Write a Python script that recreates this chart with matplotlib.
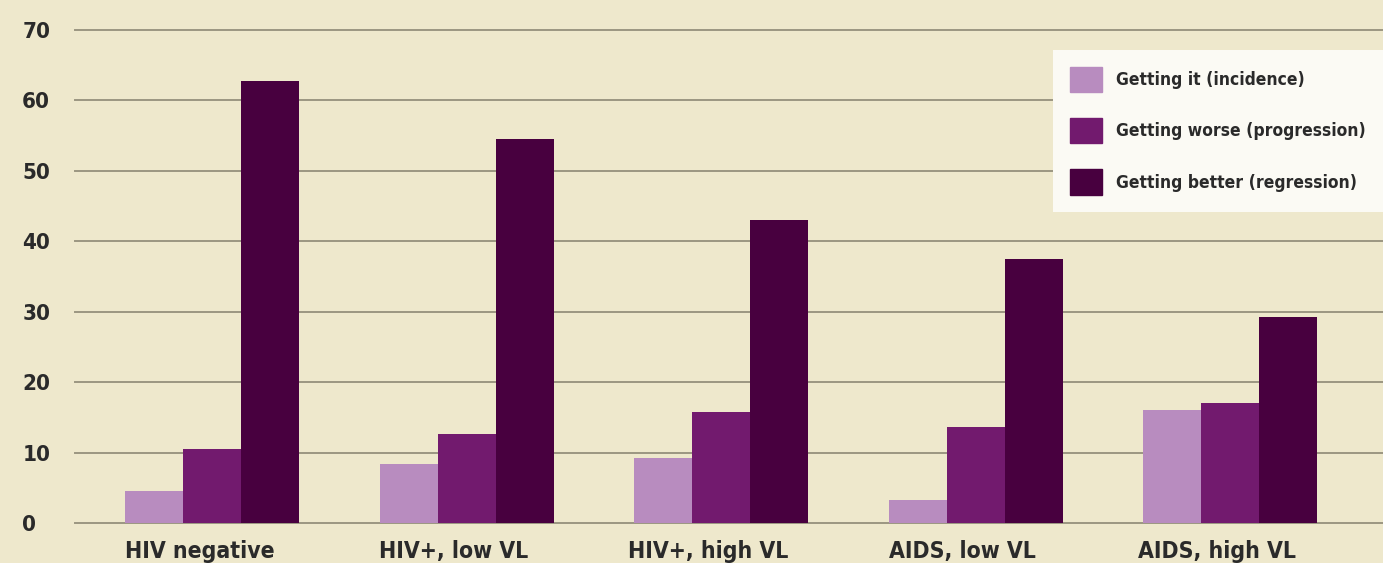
import matplotlib.pyplot as plt
import matplotlib.patches as mpatches
import matplotlib.transforms as mtransforms
import numpy as np

plt.rcParams['font.family'] = ['DejaVu Sans']
plt.rcParams['font.stretch'] = 'condensed'
plt.rcParams['font.weight'] = 'bold'

groups = ['HIV negative', 'HIV+, low VL', 'HIV+, high VL', 'AIDS, low VL', 'AIDS, high VL']
incidence = [4.6, 8.4, 9.3, 3.2, 16.1]
progression = [10.5, 12.6, 15.8, 13.7, 17.1]
regression = [62.7, 54.5, 43.0, 37.5, 29.2]
series = ['Getting it (incidence)', 'Getting worse (progression)', 'Getting better (regression)']
colors = ['#b88cbf', '#721a6e', '#48003f']

bg = '#eee8cc'
fig = plt.figure(figsize=(13.83, 5.63), dpi=100, facecolor=bg)
ax = fig.add_axes([75 / 1383, 40 / 563, 1 - 75 / 1383, 493 / 563])
ax.set_facecolor(bg)

x = np.arange(len(groups))
w = 0.228
for i, (vals, c) in enumerate(zip([incidence, progression, regression], colors)):
    ax.bar(x + (i - 1) * w, vals, w, color=c, zorder=3, label=series[i])

ax.set_xlim(-0.54, 4.6)
ax.set_ylim(0, 70)
ax.set_yticks(range(0, 71, 10))
for yv in range(0, 71, 10):
    ax.axhline(yv, color='#9b9681', lw=1.4, zorder=1, clip_on=False)

for s in ax.spines.values():
    s.set_visible(False)
ax.tick_params(axis='both', length=0, labelsize=16, colors='#2a2a2a')
ax.tick_params(axis='y', pad=38)
for lab in ax.get_yticklabels():
    lab.set_horizontalalignment('left')
ax.set_xticks(x)
ax.set_xticklabels(groups, fontsize=16.5, fontweight='bold')
ax.tick_params(axis='x', pad=12)
# category names sit a little left of the bar groups
shift = mtransforms.ScaledTranslation(-13 / 100, 0, fig.dpi_scale_trans)
for lab in ax.get_xticklabels():
    lab.set_transform(lab.get_transform() + shift)

handles = [mpatches.Patch(color=c) for c in colors]
leg = ax.legend(handles, series, loc='upper right', bbox_to_anchor=(1.0, 0.96),
                borderaxespad=0, fontsize=12.5, handlelength=1.85, handleheight=1.85,
                labelspacing=1.5, borderpad=1.0, handletextpad=0.8,
                fancybox=False, framealpha=1)
leg.get_frame().set_facecolor('#fbfaf4')
leg.get_frame().set_edgecolor('none')
for t in leg.get_texts():
    t.set_color('#2a2a2a')
    t.set_fontweight('bold')

fig.savefig('out.png', dpi=100, facecolor=bg)
